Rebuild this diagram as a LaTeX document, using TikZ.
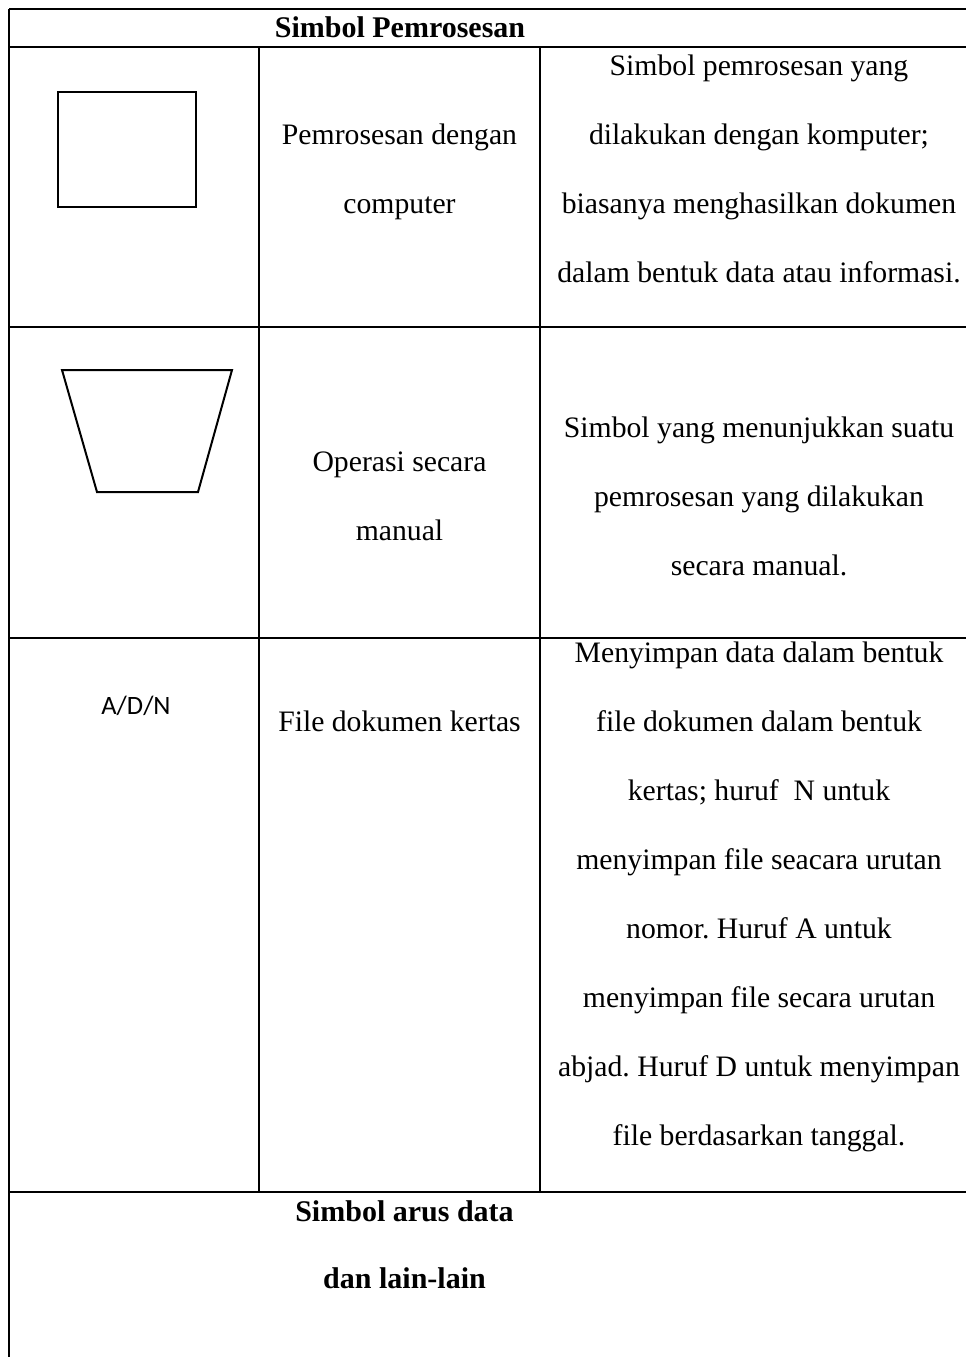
\documentclass[tikz,border=0pt]{standalone}
\usepackage{fontspec}
\setmainfont{Liberation Serif}
\newfontfamily\adnfont{Carlito}
\usepackage{tikz}
\usetikzlibrary{calc}
\frenchspacing
\tikzset{
  cell/.style={align=center,anchor=base,inner sep=0pt,font=\fontsize{29.7}{69}\selectfont},
  head/.style={cell,font=\fontsize{30}{67}\selectfont\bfseries},
  rule/.style={line width=1.8pt},
  sep/.style={line width=1.1pt},
  symline/.style={line width=2pt},
}

\begin{document}
\begin{tikzpicture}[x=1pt,y=-1pt,line join=miter]
  \useasboundingbox (0,0) rectangle (966,1357);
  % table rules
  \foreach \y in {9,47,327,638,1192}
    \draw[rule] (9,\y) -- (966,\y);
  \draw[sep] (9,9) -- (9,1357);
  \foreach \x in {259,540}
    \draw[sep] (\x,47) -- (\x,1192);
  % symbols
  \draw[symline] (58,92) rectangle (196,207);
  \draw[symline] (62,370) -- (232,370) -- (198,492) -- (97,492) -- cycle;
  \node[anchor=base,inner sep=0pt,font=\adnfont\fontsize{26.5}{30}\selectfont] (adn) at (136,714) {A/D/N};
  % texts (placed by the baseline of their last line)
  \node[head] (title) at (400,37) {Simbol Pemrosesan};
  \node[cell] (komp) at (399.5,213) {Pemrosesan dengan\\computer};
  \node[cell] (kompket) at (759,282) {Simbol pemrosesan yang\\dilakukan dengan komputer;\\biasanya menghasilkan dokumen\\dalam bentuk data atau informasi.};
  \node[cell] (manual) at (399.5,540) {Operasi secara\\manual};
  \node[cell] (manualket) at (759,575) {Simbol yang menunjukkan suatu\\pemrosesan yang dilakukan\\secara manual.};
  \node[cell] (kertas) at (399.5,731) {File dokumen kertas};
  \node[cell] (kertasket) at (759,1145) {Menyimpan data dalam bentuk\\file dokumen dalam bentuk\\kertas; huruf~ N untuk\\menyimpan file seacara urutan\\nomor. Huruf A untuk\\menyimpan file secara urutan\\abjad. Huruf D untuk menyimpan\\file berdasarkan tanggal.};
  \node[head] (arus) at (404.5,1288) {Simbol arus data\\dan lain-lain};
\end{tikzpicture}
\end{document}
